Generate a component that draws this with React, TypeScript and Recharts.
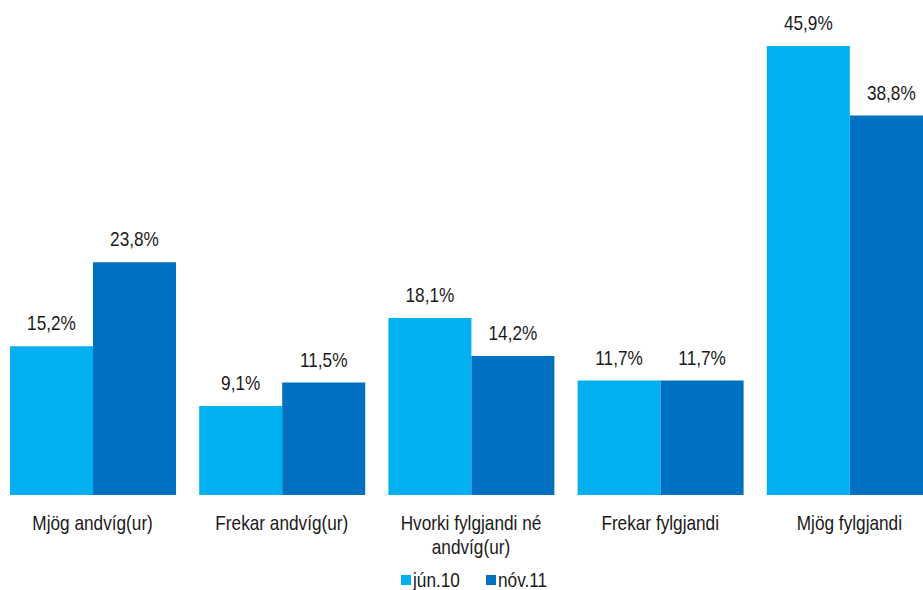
import { BarChart, Bar, XAxis, YAxis, Legend, LabelList, Text } from 'recharts'

const categories = ['Mjög andvíg(ur)', 'Frekar andvíg(ur)', 'Hvorki fylgjandi né andvíg(ur)', 'Frekar fylgjandi', 'Mjög fylgjandi']
const jun10 = [15.2, 9.1, 18.1, 11.7, 45.9]
const nov11 = [23.8, 11.5, 14.2, 11.7, 38.8]

const data = categories.map((name, i) => ({ name, jun10: jun10[i], nov11: nov11[i] }))

// no narrow font installed, so squeeze Liberation Sans horizontally
const FONT = '"Liberation Sans", Arial, sans-serif'
const SIZE = 21
const SQ = 0.82

const fmt = (v: any) => `${Number(v).toFixed(1).replace('.', ',')}%`

const squeeze = (x: number) => `translate(${x},0) scale(${SQ},1) translate(${-x},0)`

const CategoryTick = (props: any) => {
  const { x, y, payload } = props
  return (
    <g transform={squeeze(x)}>
      <Text x={x} y={y + 12} width={160 / SQ} textAnchor="middle" verticalAnchor="start"
        fontSize={SIZE} fill="#1a1a1a" fontFamily={FONT} lineHeight={24}>
        {payload.value}
      </Text>
    </g>
  )
}

const ValueLabel = (props: any) => {
  const { x, y, width, value } = props
  const cx = x + width / 2
  return (
    <text x={cx} y={y - 16} transform={squeeze(cx)} textAnchor="middle"
      fontSize={SIZE} fill="#1a1a1a" fontFamily={FONT}>
      {fmt(value)}
    </text>
  )
}

const legendItems = [
  { label: 'jún.10', color: '#00B0F0', w: 70 },
  { label: 'nóv.11', color: '#0070C0', w: 70 },
]

const LegendBox = () => (
  <div style={{ display: 'flex', fontFamily: FONT, fontSize: SIZE, lineHeight: '24px', color: '#1a1a1a', paddingTop: 13, paddingLeft: 403 }}>
    {legendItems.map((it) => (
      <span key={it.label} style={{ display: 'flex', alignItems: 'center', width: it.w + 15 }}>
        <span style={{ width: 10, height: 10, background: it.color, marginRight: 2 }} />
        <span style={{ display: 'inline-block', transform: `scaleX(${SQ})`, transformOrigin: 'left center' }}>{it.label}</span>
      </span>
    ))}
  </div>
)

const App = () => {
  return (
    <div style={{ position: 'absolute', left: 0, top: 0, width: 923, height: 590, overflow: 'hidden', background: '#fff' }}>
      <div style={{ marginLeft: -2 }}>
        <BarChart width={946} height={590} data={data} barGap={0} barCategoryGap={12}
          margin={{ top: 6, right: 0, bottom: 0, left: 0 }}>
          <XAxis dataKey="name" axisLine={false} tickLine={false} interval={0} height={60} tick={<CategoryTick />} />
          <YAxis hide domain={[0, 50]} />
          <Legend verticalAlign="bottom" height={35} content={<LegendBox />} />
          <Bar dataKey="jun10" name="jún.10" fill="#00B0F0" isAnimationActive={false}>
            <LabelList dataKey="jun10" content={<ValueLabel />} />
          </Bar>
          <Bar dataKey="nov11" name="nóv.11" fill="#0070C0" isAnimationActive={false}>
            <LabelList dataKey="nov11" content={<ValueLabel />} />
          </Bar>
        </BarChart>
      </div>
    </div>
  )
}

export default App
